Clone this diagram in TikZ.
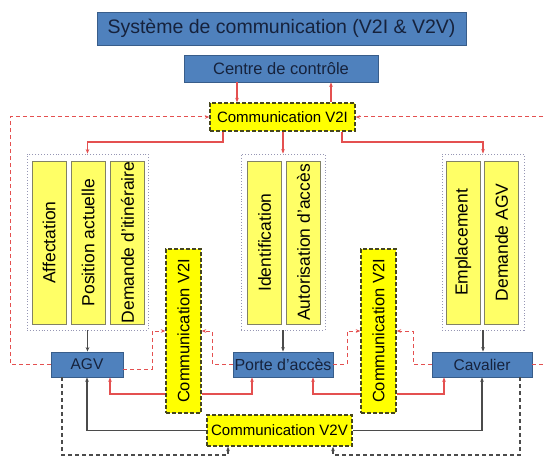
\documentclass[tikz,border=0pt]{standalone}
\usepackage{fontspec}
\usepackage{graphicx}
\setmainfont{Liberation Sans}
\usetikzlibrary{arrows.meta,calc}

\definecolor{boxblue}{RGB}{79,129,189}
\definecolor{boxblueline}{RGB}{56,93,138}
\definecolor{navytext}{RGB}{22,34,60}
\definecolor{barfill}{RGB}{255,255,102}
\definecolor{barline}{RGB}{130,130,100}
\definecolor{linkred}{RGB}{228,80,80}
\definecolor{linkgray}{RGB}{75,75,75}
\definecolor{framegray}{RGB}{150,150,180}
\definecolor{commfill}{RGB}{255,255,0}
\definecolor{commline}{RGB}{70,70,30}

\newcommand{\fs}[1]{\fontsize{#1}{#1}\selectfont}

\begin{document}
\begin{tikzpicture}[x=1pt,y=-1pt,
  tip/.tip={Stealth[length=4.5pt,width=3.6pt]},
  bluebox/.style={draw=boxblueline, fill=boxblue, line width=0.8pt,
    inner sep=0pt, text=navytext},
  commbox/.style={draw=commline, fill=commfill, dash pattern=on 4pt off 2pt,
    line width=1.4pt, inner sep=0pt, text=black},
  barbox/.style={draw=barline, fill=barfill, line width=0.8pt,
    minimum width=34pt, minimum height=163pt, inner sep=0pt, font=\fs{17.5}},
  groupframe/.style={draw=framegray, dotted, line width=0.9pt,
    minimum height=176pt, inner sep=0pt},
  redlink/.style={draw=linkred, line width=1.1pt, -tip},
  reddash/.style={draw=linkred, line width=1pt, dash pattern=on 4pt off 3pt, -tip},
  graylink/.style={draw=linkgray, line width=1.1pt, -tip},
  graydash/.style={draw=linkgray, line width=1.3pt, dash pattern=on 4pt off 3pt, -tip},
]
\fill[white] (0,0) rectangle (546,457);
\clip (0,0) rectangle (546,457);

% headers
\node[bluebox, minimum width=369pt, minimum height=33pt, font=\fs{19.5}]
  (title) at (281.5,28.5) {Système de communication (V2I \& V2V)};
\node[bluebox, minimum width=194pt, minimum height=27pt, font=\fs{16.5}]
  (centre) at (281,68.5) {Centre de contrôle};
\node[commbox, minimum width=145pt, minimum height=28pt, font=\fs{15}]
  (hub) at (282.5,117) {Communication V2I};

% information groups
\node[groupframe, minimum width=121pt] (gL) at (87.5,242) {};
\node[groupframe, minimum width=84pt]  (gM) at (283,242) {};
\node[groupframe, minimum width=82pt]  (gR) at (483,242) {};

\node[barbox] (b1) at (49,242.5)    {\rotatebox{90}{Affectation}};
\node[barbox] (b2) at (88,242.5)    {\rotatebox{90}{Position actuelle}};
\node[barbox] (b3) at (127.5,242.5) {\rotatebox{90}{Demande d'itinéraire}};
\node[barbox] (b4) at (264.5,242.5) {\rotatebox{90}{Identification}};
\node[barbox] (b5) at (303.5,242.5) {\rotatebox{90}{Autorisation d'accès}};
\node[barbox] (b6) at (463,242.5)   {\rotatebox{90}{Emplacement}};
\node[barbox] (b7) at (501.5,242.5) {\rotatebox{90}{Demande AGV}};

% actors
\node[bluebox, minimum width=72pt, minimum height=25pt, font=\fs{15.5}]
  (agv) at (87,364.5) {AGV};
\node[bluebox, minimum width=100pt, minimum height=25pt, font=\fs{16}]
  (porte) at (283,364.5) {Porte d'accès};
\node[bluebox, minimum width=100pt, minimum height=25pt, font=\fs{15.5}]
  (cav) at (482,364.5) {Cavalier};

% local communication boxes
\node[commbox, minimum width=35pt, minimum height=164pt, font=\fs{16.5}]
  (vl) at (183.5,331) {\rotatebox{90}{Communication V2I}};
\node[commbox, minimum width=35pt, minimum height=164pt, font=\fs{16.5}]
  (vr) at (378.5,331) {\rotatebox{90}{Communication V2I}};
\node[commbox, minimum width=145pt, minimum height=31pt, font=\fs{15}]
  (v2v) at (279.5,430.5) {Communication V2V};

% control centre <-> V2I hub
\coordinate (cl) at (237,0);
\coordinate (cr) at (331,0);
\draw[redlink] (centre.south -| cl) -- (hub.north -| cl);
\draw[redlink] (hub.north -| cr) -- (centre.south -| cr);

% hub to the information groups
\coordinate (tl) at (223,142);
\coordinate (tr) at (342,142);
\draw[redlink] (hub.south -| tl) -- (tl) -| (gL.north);
\draw[redlink] (hub.south -| gM.north) -- (gM.north);
\draw[redlink] (hub.south -| tr) -- (tr) -| (gR.north);

% outer V2I loop
\coordinate (fl) at (10,0);
\coordinate (fr) at (575,0);
\draw[reddash] (agv.west) -- (agv.west -| fl) -- (fl |- hub.west) -- (hub.west);
\draw[reddash] (cav.east) -- (cav.east -| fr) -- (fr |- hub.east) -- (hub.east);

% actors to local V2I boxes
\coordinate (agvE) at ([yshift=-5pt]agv.east);
\coordinate (a1) at (152,0);
\coordinate (a2) at (212,0);
\coordinate (a3) at (347,0);
\coordinate (a4) at (413,0);
\draw[reddash] (agvE) -- (agvE -| a1) -- (a1 |- vl.west) -- (vl.west);
\draw[reddash] (porte.west) -- (porte.west -| a2) -- (a2 |- vl.east) -- (vl.east);
\draw[reddash] (porte.east) -- (porte.east -| a3) -- (a3 |- vr.west) -- (vr.west);
\draw[reddash] (cav.west) -- (cav.west -| a4) -- (a4 |- vr.east) -- (vr.east);

% local V2I boxes back to the actors
\coordinate (r1) at (110,394);
\coordinate (r2) at (252,394);
\coordinate (r3) at (313,394);
\coordinate (r4) at (444,394);
\draw[redlink] (vl.west |- r1) -- (r1) -- (r1 |- agv.south);
\draw[redlink] (vl.east |- r2) -- (r2) -- (r2 |- porte.south);
\draw[redlink] (vr.west |- r3) -- (r3) -- (r3 |- porte.south);
\draw[redlink] (vr.east |- r4) -- (r4) -- (r4 |- cav.south);

% groups to actors
\draw[graylink] (gL.south) -- (gL.south |- agv.north);
\draw[graylink] (gM.south) -- (gM.south |- porte.north);
\draw[graylink] (gR.south) -- (gR.south |- cav.north);

% V2V links
\draw[graylink] (v2v.west) -| (agv.south);
\draw[graylink] (v2v.east) -| (cav.south);
\coordinate (d1) at (62,455);
\coordinate (d2) at (228,455);
\coordinate (d3) at (333,455);
\coordinate (d4) at (520,455);
\draw[graydash] (agv.south -| d1) -- (d1) -- (d2) -- (d2 |- v2v.south);
\draw[graydash] (cav.south -| d4) -- (d4) -- (d3) -- (d3 |- v2v.south);
\end{tikzpicture}
\end{document}
